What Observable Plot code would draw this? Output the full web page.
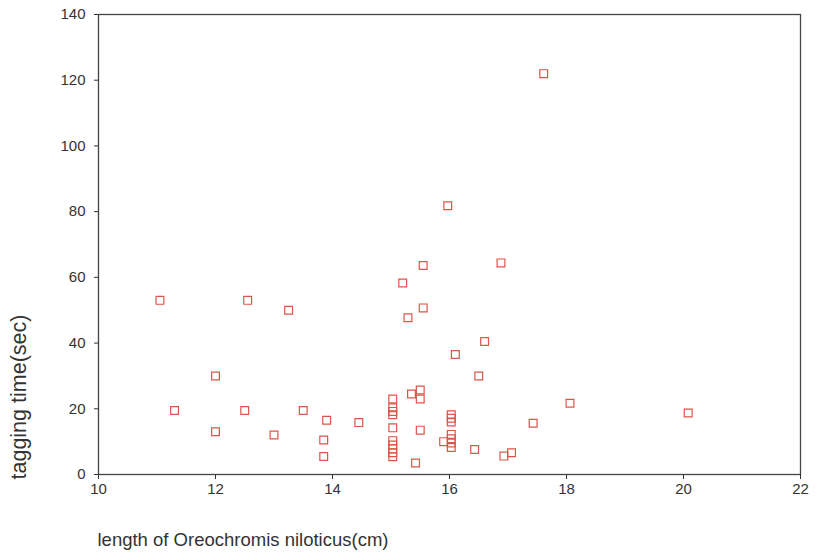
<!DOCTYPE html>
<html>
<head>
<meta charset="utf-8">
<script src="https://cdn.jsdelivr.net/npm/d3@7"></script>
<script src="https://cdn.jsdelivr.net/npm/@observablehq/plot@0.6"></script>
<style>
  html, body { margin: 0; padding: 0; background: #fff; }
  svg { display: block; }
</style>
</head>
<body>
<div id="chart"></div>
<script>
// Fish length (cm) and tagging time (sec)
const lengths = [
  11.05, 11.3, 12.0, 12.0, 12.55, 12.5, 13.25, 13.0, 13.5, 13.9, 13.85, 13.85, 14.45,
  15.03, 15.03, 15.03, 15.03, 15.03, 15.03, 15.03, 15.03, 15.03, 15.03,
  15.35, 15.5, 15.5, 15.5, 15.42,
  16.03, 16.03, 16.03, 16.03, 16.03, 16.03, 16.03, 15.9,
  16.1, 16.43, 16.5, 16.6, 16.88, 16.93, 17.06, 17.43, 17.61, 18.06, 20.08,
  15.55, 15.2, 15.55, 15.29, 15.97
];
const times = [
  53, 19.5, 30, 13, 53, 19.5, 50, 12, 19.5, 16.5, 10.5, 5.5, 15.8,
  23, 20.3, 19.2, 18.2, 14.2, 10.3, 9, 7.8, 6.6, 5.4,
  24.5, 25.7, 23, 13.5, 3.5,
  18.2, 17.1, 16.0, 12.2, 10.9, 9.6, 8.2, 10,
  36.5, 7.6, 30, 40.5, 64.4, 5.6, 6.6, 15.6, 122, 21.7, 18.7,
  63.6, 58.3, 50.7, 47.7, 81.8
];
const xTicks = [10, 12, 14, 16, 18, 20, 22];
const yTicks = [0, 20, 40, 60, 80, 100, 120, 140];
const xLabel = "length of Oreochromis niloticus(cm)";
const yLabel = "tagging time(sec)";

const data = lengths.map((x, i) => ({x, y: times[i]}));

const chart = Plot.plot({
  width: 818,
  height: 560,
  marginLeft: 98,
  marginRight: 18,
  marginTop: 14,
  marginBottom: 86,
  style: {fontFamily: "'Liberation Sans', Arial, sans-serif", background: "#fff"},
  x: {domain: [10, 22]},
  y: {domain: [0, 140]},
  marks: [
    Plot.frame({stroke: "#444", strokeWidth: 1.3}),
    Plot.axisX({ticks: xTicks, tickSize: 5, tickPadding: 4, fontSize: 15, color: "#333", label: null}),
    Plot.axisY({ticks: yTicks, tickSize: 4, tickPadding: 9, fontSize: 15, color: "#333", label: null}),
    Plot.dot(data, {x: "x", y: "y", symbol: "square", r: 4.4, stroke: "#dd5548", strokeWidth: 1.2, fill: "none"}),
    Plot.text([yLabel], {text: d => d, frameAnchor: "bottom-left", rotate: -90, textAnchor: "start", dx: -73, dy: 5, fontSize: 21.5, fill: "#333"}),
    Plot.text([xLabel], {text: d => d, frameAnchor: "bottom-left", textAnchor: "start", dx: -1, dy: 71, fontSize: 18.5, fill: "#333"})
  ]
});
document.getElementById("chart").appendChild(chart);
</script>
</body>
</html>
